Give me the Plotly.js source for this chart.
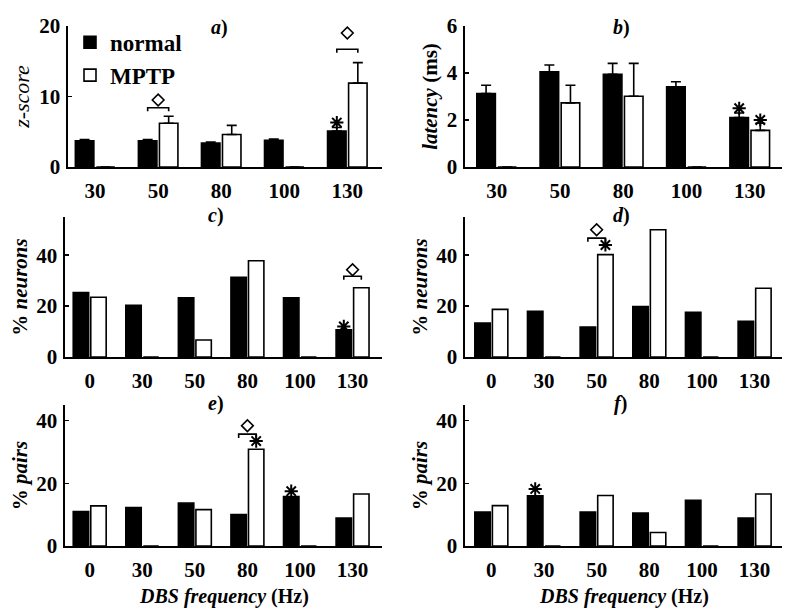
<!DOCTYPE html>
<html>
<head>
<meta charset="utf-8">
<script src="https://cdn.plot.ly/plotly-3.0.1.min.js"></script>
<style>html,body{margin:0;padding:0;background:#fff;}#chart{width:800px;height:610px;}</style>
</head>
<body>
<div id="chart"></div>
<script>
// ---------- data ----------
const freqAB = ['30', '50', '80', '100', '130'];
const freqCF = ['0', '30', '50', '80', '100', '130'];

// a) z-score
const zNormal = [3.7, 3.7, 3.4, 3.8, 5.1];
const zNormalErr = [0.2, 0.2, 0.15, 0.15, 0.5];
const zMPTP = [0, 6.2, 4.6, 0, 11.9];
const zMPTPErr = [0, 1.0, 1.3, 0, 2.9];

// b) latency (ms)
const latNormal = [3.13, 4.05, 3.95, 3.41, 2.1];
const latNormalErr = [0.35, 0.29, 0.46, 0.22, 0.2];
const latMPTP = [0, 2.73, 3.01, 0, 1.56];
const latMPTPErr = [0, 0.75, 1.4, 0, 0.3];

// c) % neurons
const neurNormalC = [25.3, 20.3, 23.3, 31.3, 23.3, 10.7];
const neurMPTPC = [23.5, 0, 6.7, 37.8, 0, 27.2];
// d) % neurons
const neurNormalD = [13.3, 18, 11.8, 19.8, 17.6, 14];
const neurMPTPD = [18.7, 0, 40.2, 50, 0, 27];
// e) % pairs
const pairsNormalE = [11, 12.3, 13.7, 10, 15.8, 8.9];
const pairsMPTPE = [12.8, 0, 11.6, 30.9, 0, 16.6];
// f) % pairs
const pairsNormalF = [10.8, 16, 10.8, 10.5, 14.6, 8.9];
const pairsMPTPF = [12.9, 0, 16.1, 4.3, 0, 16.6];

// significance marks: stars (series 'n' = normal, 'm' = MPTP), diamonds with brackets
const starA_idx = [4], starA_ser = ['n'], starA_y = [6.3];
const diaA_idx = [1, 4], diaA_bracket = [8.4, 16.7], diaA_y = [9.5, 19];
const starB_idx = [4, 4], starB_ser = ['n', 'm'], starB_y = [2.5, 2.0];
const starC_idx = [5], starC_ser = ['n'], starC_y = [12];
const diaC_idx = [5], diaC_bracket = [31.7], diaC_y = [34.3];
const starD_idx = [2, 3], starD_ser = ['m', 'm'], starD_y = [44, 55.3];
const diaD_idx = [2], diaD_bracket = [46.7], diaD_y = [50];
const starE_idx = [3, 4], starE_ser = ['m', 'n'], starE_y = [33.5, 17.5];
const diaE_idx = [3], diaE_bracket = [35.7], diaE_y = [38.4];
const starF_idx = [1], starF_ser = ['n'], starF_y = [18.2];

// ---------- helpers ----------
const BARGAP = 1 / 3;
const SLOT = (1 - BARGAP) / 2;
const OFF = SLOT / 2;
const FONT = 'Liberation Serif';
const idx = n => Array.from({length: n}, (_, i) => i);

function bars(vals, errs, name, xa, ya, filled, showlegend) {
  const t = {
    type: 'bar', x: idx(vals.length), y: vals, name: name,
    xaxis: xa, yaxis: ya, showlegend: showlegend, legendgroup: name,
    marker: {color: filled ? '#000' : '#fff', line: {color: '#000', width: 1.6}},
    hoverinfo: 'skip'
  };
  if (errs) {
    t.error_y = {type: 'data', array: errs, arrayminus: errs.map(() => 0), symmetric: false,
                 color: '#000', thickness: 1.6, width: 5};
  }
  return t;
}
function stars(ix, ser, ys, xa, ya) {
  return {
    type: 'scatter', mode: 'markers', x: ix.map((v, k) => v + (ser[k] === 'n' ? -OFF : OFF)), y: ys,
    xaxis: xa, yaxis: ya, showlegend: false, cliponaxis: false, hoverinfo: 'skip',
    marker: {symbol: 'asterisk-open', size: 11, color: '#000', line: {color: '#000', width: 2}}
  };
}
function diamonds(ix, bracketY, ys, xa, ya, tick) {
  const bx = [], by = [];
  ix.forEach((v, k) => {
    bx.push(v - OFF, v - OFF, v + OFF, v + OFF, null);
    by.push(bracketY[k] - tick, bracketY[k], bracketY[k], bracketY[k] - tick, null);
  });
  return [
    {type: 'scatter', mode: 'lines', x: bx, y: by, xaxis: xa, yaxis: ya, showlegend: false,
     cliponaxis: false, hoverinfo: 'skip', line: {color: '#000', width: 1.6}},
    {type: 'scatter', mode: 'markers', x: ix, y: ys, xaxis: xa, yaxis: ya, showlegend: false,
     cliponaxis: false, hoverinfo: 'skip',
     marker: {symbol: 'diamond-open', size: 9, color: '#000', line: {color: '#000', width: 1.6}}}
  ];
}

const data = [
  bars(zNormal, zNormalErr, 'normal', 'x', 'y', true, true),
  bars(zMPTP, zMPTPErr, 'MPTP', 'x', 'y', false, true),
  bars(latNormal, latNormalErr, 'normal', 'x2', 'y2', true, false),
  bars(latMPTP, latMPTPErr, 'MPTP', 'x2', 'y2', false, false),
  bars(neurNormalC, null, 'normal', 'x3', 'y3', true, false),
  bars(neurMPTPC, null, 'MPTP', 'x3', 'y3', false, false),
  bars(neurNormalD, null, 'normal', 'x4', 'y4', true, false),
  bars(neurMPTPD, null, 'MPTP', 'x4', 'y4', false, false),
  bars(pairsNormalE, null, 'normal', 'x5', 'y5', true, false),
  bars(pairsMPTPE, null, 'MPTP', 'x5', 'y5', false, false),
  bars(pairsNormalF, null, 'normal', 'x6', 'y6', true, false),
  bars(pairsMPTPF, null, 'MPTP', 'x6', 'y6', false, false),
  stars(starA_idx, starA_ser, starA_y, 'x', 'y'),
  ...diamonds(diaA_idx, diaA_bracket, diaA_y, 'x', 'y', 0.5),
  stars(starB_idx, starB_ser, starB_y, 'x2', 'y2'),
  stars(starC_idx, starC_ser, starC_y, 'x3', 'y3'),
  ...diamonds(diaC_idx, diaC_bracket, diaC_y, 'x3', 'y3', 1.4),
  stars(starD_idx, starD_ser, starD_y, 'x4', 'y4'),
  ...diamonds(diaD_idx, diaD_bracket, diaD_y, 'x4', 'y4', 1.4),
  stars(starE_idx, starE_ser, starE_y, 'x5', 'y5'),
  ...diamonds(diaE_idx, diaE_bracket, diaE_y, 'x5', 'y5', 1.2),
  stars(starF_idx, starF_ser, starF_y, 'x6', 'y6')
];

// ---------- layout ----------
const tickFont = {family: FONT, size: 21, color: '#000', weight: 'bold'};
function xAxis(anchor, dom, labels, range) {
  return {
    anchor: anchor, domain: dom, range: range, showgrid: false, zeroline: false,
    showline: true, linecolor: '#000', linewidth: 1.6, ticks: '',
    tickvals: idx(labels.length), ticktext: labels, tickfont: tickFont, ticklabelstandoff: 4,
    fixedrange: true
  };
}
function yAxis(anchor, dom, range, dtick, title, size) {
  return {
    anchor: anchor, domain: dom, range: range, dtick: dtick, showgrid: false, zeroline: false,
    showline: true, linecolor: '#000', linewidth: 1.6, ticks: 'inside', ticklen: 4,
    tickwidth: 1.4, tickcolor: '#000', tickfont: tickFont, ticklabelstandoff: 2,
    title: {text: title, font: {family: FONT, size: size, color: '#000'}, standoff: 3},
    fixedrange: true
  };
}
const colL = [0.085, 0.4775], colR = [0.58125, 0.9775];
const row1 = [0.72623, 0.95738], row2 = [0.41475, 0.64426], row3 = [0.10492, 0.33607];
const xTitle = '<b><i>DBS frequency</i> (Hz)</b>';

const panelLabels = [
  ['a', 219, 27], ['b', 621, 27], ['c', 216, 215], ['d', 621, 215], ['e', 216, 403], ['f', 620, 403]
].map(([t, px, py]) => ({
  text: '<b><i>' + t + '</i>)</b>', xref: 'paper', yref: 'paper',
  x: px / 800, y: 1 - py / 610, xanchor: 'center', yanchor: 'middle', showarrow: false,
  font: {family: FONT, size: 20, color: '#000'}
}));
const xTitles = [['x5 domain', 0.5], ['x6 domain', 0.5]].map(([xr, xv]) => ({
  text: xTitle, xref: xr, yref: 'paper', x: xv, y: 1 - 596 / 610,
  xanchor: 'center', yanchor: 'middle', showarrow: false,
  font: {family: FONT, size: 20, color: '#000'}
}));

const layout = {
  width: 800, height: 610,
  margin: {l: 0, r: 0, t: 0, b: 0},
  paper_bgcolor: '#fff', plot_bgcolor: 'rgba(0,0,0,0)',
  font: {family: FONT, color: '#000'},
  barmode: 'group', bargap: BARGAP, bargroupgap: 0.12,
  showlegend: true,
  legend: {x: 0.0875, y: 0.966, xanchor: 'left', yanchor: 'top', bgcolor: 'rgba(0,0,0,0)',
           font: {family: FONT, size: 23, color: '#000', weight: 'bold'}, tracegroupgap: 0,
           itemwidth: 30},
  xaxis: xAxis('y', colL, freqAB, [-0.43, 4.55]),
  yaxis: yAxis('x', row1, [0, 20], 10, '<i>z-score</i>', 22),
  xaxis2: xAxis('y2', colR, freqAB, [-0.5, 4.51]),
  yaxis2: yAxis('x2', row1, [0, 6], 2, '<b><i>latency</i> (ms)</b>', 21),
  xaxis3: xAxis('y3', [0.08125, 0.4775], freqCF, [-0.47, 5.56]),
  yaxis3: yAxis('x3', row2, [0, 55], 20, '<b>% <i>neurons</i></b>', 21),
  xaxis4: xAxis('y4', colR, freqCF, [-0.5, 5.52]),
  yaxis4: yAxis('x4', row2, [0, 55], 20, '<b>% <i>neurons</i></b>', 21),
  xaxis5: xAxis('y5', [0.08125, 0.4775], freqCF, [-0.47, 5.56]),
  yaxis5: yAxis('x5', row3, [0, 45], 20, '<b>% <i>pairs</i></b>', 21),
  xaxis6: xAxis('y6', colR, freqCF, [-0.5, 5.52]),
  yaxis6: yAxis('x6', row3, [0, 45], 20, '<b>% <i>pairs</i></b>', 21),
  annotations: panelLabels.concat(xTitles)
};

Plotly.newPlot('chart', data, layout, {displayModeBar: false, staticPlot: true});
</script>
</body>
</html>
